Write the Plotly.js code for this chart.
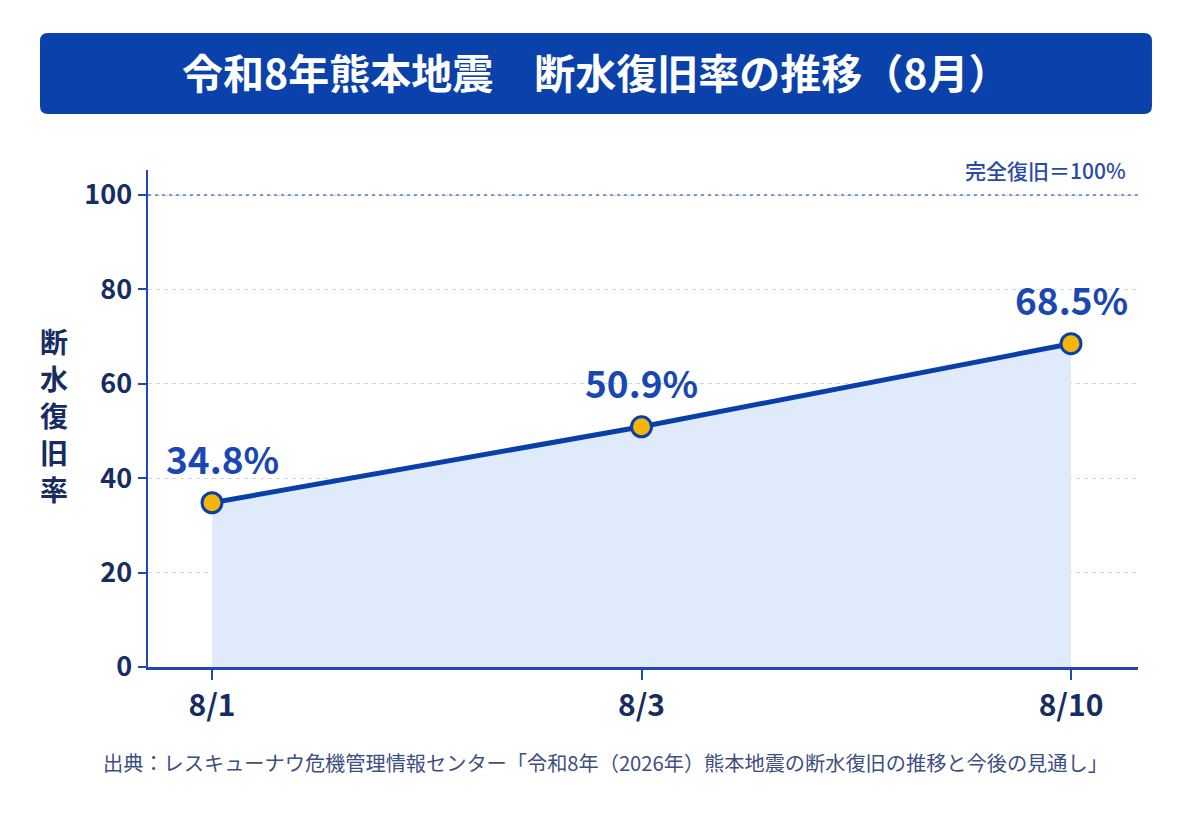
<!DOCTYPE html>
<html>
<head>
<meta charset="utf-8">
<script src="https://cdn.plot.ly/plotly-3.0.1.min.js"></script>
<style>
  html, body { margin: 0; padding: 0; background: #ffffff; }
  #chart { width: 1200px; height: 827px; }
</style>
</head>
<body>
<div id="chart"></div>
<script>
// ---- data ----
const dates = ["8/1", "8/3", "8/10"];
const restorationRate = [34.8, 50.9, 68.5];
const yTickValues = [0, 20, 40, 60, 80, 100];
const chartTitle = "令和8年熊本地震　断水復旧率の推移（8月）";
const yAxisTitle = "断水復旧率";
const fullRecoveryLabel = "完全復旧＝100%";
const fullRecoveryValue = 100;
const sourceText = "出典：レスキューナウ危機管理情報センター「令和8年（2026年）熊本地震の断水復旧の推移と今後の見通し」";

const FONT = '"Noto Sans CJK JP", "Noto Sans", sans-serif';
const BLUE = '#0b3fa8';
const NAVY = '#172d62';
const AXIS = '#2347b4';

const trace = {
  type: 'scatter',
  mode: 'lines+markers',
  x: dates,
  y: restorationRate,
  fill: 'tozeroy',
  fillcolor: '#dfeafb',
  line: { color: BLUE, width: 5 },
  marker: { size: 20, color: '#f5b50a', line: { color: BLUE, width: 3 } },
  hoverinfo: 'skip'
};

const annotations = [];
// data labels
restorationRate.forEach((v, i) => {
  annotations.push({
    x: dates[i], y: v, xref: 'x', yref: 'y',
    text: v.toFixed(1) + '%',
    showarrow: false,
    yshift: 45,
    xshift: i === 0 ? 10 : 0,
    font: { family: FONT, size: 37, color: '#1b47b3', weight: 700 }
  });
});
// title
annotations.push({
  xref: 'paper', yref: 'paper', x: 0.4525, y: 1.200,
  xanchor: 'center', yanchor: 'middle',
  text: chartTitle, showarrow: false,
  font: { family: FONT, size: 41, color: '#ffffff', weight: 700 }
});
// y-axis title (vertical, one character per line)
yAxisTitle.split('').forEach((ch, i) => {
  annotations.push({
    xref: 'paper', yref: 'paper', x: -0.095, y: 0.507,
    xanchor: 'center', yanchor: 'middle',
    yshift: (2 - i) * 37,
    text: ch, showarrow: false,
    font: { family: FONT, size: 28, color: NAVY, weight: 700 }
  });
});
// full recovery label
annotations.push({
  xref: 'paper', yref: 'y', x: 0.99, y: fullRecoveryValue,
  xanchor: 'right', yanchor: 'bottom', yshift: 8,
  text: fullRecoveryLabel, showarrow: false,
  font: { family: FONT, size: 21, color: '#2a4aa8', weight: 500 }
});
// source
annotations.push({
  xref: 'paper', yref: 'paper', x: -0.047, y: -0.192,
  xanchor: 'left', yanchor: 'middle',
  text: sourceText, showarrow: false,
  font: { family: FONT, size: 20.2, color: '#3d4f80' }
});

// banner rounded rect path in paper coords
const x0 = -0.1091, x1 = 1.0141, y0 = 1.1127, y1 = 1.2757, rx = 0.0081, ry = 0.0161;
const bannerPath = `M ${x0+rx} ${y0} L ${x1-rx} ${y0} Q ${x1} ${y0} ${x1} ${y0+ry} L ${x1} ${y1-ry} Q ${x1} ${y1} ${x1-rx} ${y1} L ${x0+rx} ${y1} Q ${x0} ${y1} ${x0} ${y1-ry} L ${x0} ${y0+ry} Q ${x0} ${y0} ${x0+rx} ${y0} Z`;

const layout = {
  width: 1200, height: 827,
  margin: { l: 148, r: 62, t: 170, b: 160 },
  paper_bgcolor: '#ffffff', plot_bgcolor: '#ffffff',
  showlegend: false,
  xaxis: {
    type: 'category',
    range: [-0.149, 2.156],
    showline: true, linecolor: AXIS, linewidth: 2.5,
    ticks: 'outside', ticklen: 10, tickwidth: 2, tickcolor: AXIS,
    showgrid: false, zeroline: false,
    tickfont: { family: FONT, size: 30, color: NAVY, weight: 700 },
    fixedrange: true
  },
  yaxis: {
    range: [0, 105.3],
    tickvals: yTickValues,
    showline: true, linecolor: AXIS, linewidth: 2.5,
    ticks: 'outside', ticklen: 8, tickwidth: 2, tickcolor: AXIS,
    showgrid: true, gridcolor: '#cbd8f1', gridwidth: 1, griddash: '4px,4px',
    zeroline: false,
    tickfont: { family: FONT, size: 27, color: NAVY, weight: 700 },
    fixedrange: true
  },
  shapes: [
    { type: 'path', xref: 'paper', yref: 'paper', path: bannerPath,
      fillcolor: '#0b41aa', line: { width: 0 }, layer: 'below' },
    { type: 'line', xref: 'paper', yref: 'y', x0: 0, x1: 1,
      y0: fullRecoveryValue, y1: fullRecoveryValue,
      line: { color: '#5577cc', width: 1.5, dash: '3px,4px' }, layer: 'above' }
  ],
  annotations: annotations
};

Plotly.newPlot('chart', [trace], layout, { displayModeBar: false, staticPlot: true });
</script>
</body>
</html>
